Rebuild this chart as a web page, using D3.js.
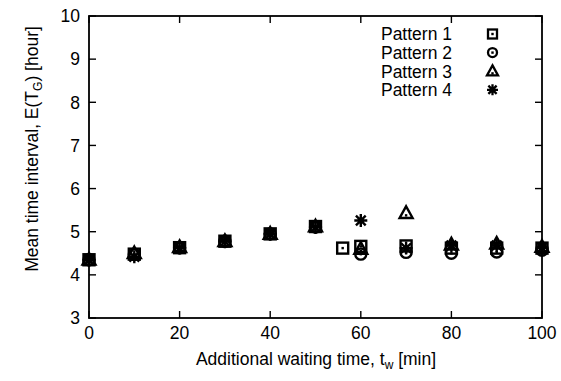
<!DOCTYPE html>
<html><head><meta charset="utf-8">
<script src="https://cdn.jsdelivr.net/npm/d3@7"></script>
<style>body{margin:0;background:#fff}svg{display:block}text{font-family:"Liberation Sans",Arial,sans-serif;fill:#000}</style>
</head><body>
<svg id="c" width="561" height="381"></svg>
<script>
const xTicks = [0, 20, 40, 60, 80, 100];
const yTicks = [3, 4, 5, 6, 7, 8, 9, 10];
const seriesNames = ["Pattern 1", "Pattern 2", "Pattern 3", "Pattern 4"];
const p1x = [0, 10, 20, 30, 40, 50, 56, 60, 70, 80, 90, 100];
const p1y = [4.35, 4.48, 4.63, 4.78, 4.95, 5.12, 4.62, 4.66, 4.67, 4.62, 4.62, 4.62];
const p2x = [0, 10, 20, 30, 40, 50, 60, 70, 80, 90, 100];
const p2y = [4.35, 4.47, 4.63, 4.78, 4.95, 5.11, 4.48, 4.52, 4.50, 4.53, 4.57];
const p3x = [0, 10, 20, 30, 40, 50, 60, 70, 80, 90, 100];
const p3y = [4.35, 4.50, 4.64, 4.78, 4.95, 5.12, 4.60, 5.43, 4.70, 4.72, 4.65];
const p4x = [0, 10, 20, 30, 40, 50, 60, 70, 80, 90, 100];
const p4y = [4.34, 4.42, 4.62, 4.77, 4.94, 5.10, 5.26, 4.62, 4.68, 4.68, 4.63];

const svg = d3.select("#c");
const L = 89, R = 542, T = 16, B = 318;
const x = d3.scaleLinear().domain([0, 100]).range([L, R]);
const y = d3.scaleLinear().domain([3, 10]).range([B, T]);
const FS = 17.5;

// ticks (inward, mirrored)
const tk = 7;
const g = svg.append("g").attr("stroke", "#000").attr("stroke-width", 1.4);
xTicks.forEach(v => {
  g.append("line").attr("x1", x(v)).attr("x2", x(v)).attr("y1", B).attr("y2", B - tk);
  g.append("line").attr("x1", x(v)).attr("x2", x(v)).attr("y1", T).attr("y2", T + tk);
});
yTicks.forEach(v => {
  g.append("line").attr("x1", L).attr("x2", L + tk).attr("y1", y(v)).attr("y2", y(v));
  g.append("line").attr("x1", R).attr("x2", R - tk).attr("y1", y(v)).attr("y2", y(v));
});
svg.append("rect").attr("x", L).attr("y", T).attr("width", R - L).attr("height", B - T)
  .attr("fill", "none").attr("stroke", "#000").attr("stroke-width", 1.8);

// tick labels
xTicks.forEach(v => svg.append("text").attr("x", x(v)).attr("y", 339).attr("text-anchor", "middle")
  .attr("font-size", FS).text(v));
yTicks.forEach(v => svg.append("text").attr("x", 80).attr("y", y(v) + 6.3).attr("text-anchor", "end")
  .attr("font-size", FS).text(v));

// axis titles
const xt = svg.append("text").attr("x", 316).attr("y", 365).attr("text-anchor", "middle").attr("font-size", FS);
xt.append("tspan").text("Additional waiting time, t");
xt.append("tspan").attr("font-size", 12).attr("dy", 4).text("w");
xt.append("tspan").attr("dy", -4).text(" [min]");

const yt = svg.append("text").attr("transform", "translate(38,149) rotate(-90)").attr("text-anchor", "middle").attr("font-size", FS);
yt.append("tspan").text("Mean time interval, E(T");
yt.append("tspan").attr("font-size", 12).attr("dy", 4).text("G");
yt.append("tspan").attr("dy", -4).text(") [hour]");

// markers
function marker(sel, type, cx, cy, s, sw) {
  const h = s / 2;
  const gg = sel.append("g").attr("transform", `translate(${cx},${cy})`)
    .attr("fill", "none").attr("stroke", "#000").attr("stroke-width", sw);
  if (type === 0) {
    gg.append("rect").attr("x", -h + 1).attr("y", -h + 1).attr("width", s - 2).attr("height", s - 2);
    gg.append("rect").attr("x", -1.2).attr("y", -1.2).attr("width", 2.4).attr("height", 2.4).attr("fill", "#000").attr("stroke", "none");
  } else if (type === 1) {
    gg.append("circle").attr("r", h - 1);
    gg.append("rect").attr("x", -1.2).attr("y", -1.2).attr("width", 2.4).attr("height", 2.4).attr("fill", "#000").attr("stroke", "none");
  } else if (type === 2) {
    gg.append("path").attr("d", `M0,${-h * 1.05}L${h},${h * 0.75}L${-h},${h * 0.75}Z`).attr("stroke-linejoin", "miter");
    gg.append("rect").attr("x", -1.2).attr("y", 1).attr("width", 2.4).attr("height", 2.4).attr("fill", "#000").attr("stroke", "none");
  } else {
    const d = h * 0.75;
    gg.append("path").attr("d", `M0,${-h}V${h}M${-h},0H${h}M${-d},${-d}L${d},${d}M${-d},${d}L${d},${-d}`);
  }
}
const series = [[p1x, p1y], [p2x, p2y], [p3x, p3y], [p4x, p4y]];
const mk = svg.append("g");
series.forEach((s, i) => {
  s[0].forEach((xv, j) => marker(mk, i, x(xv), y(s[1][j]), 13, 2.4));
});

// legend
seriesNames.forEach((n, i) => {
  const cy = 34 + i * 18.6;
  svg.append("text").attr("x", 452).attr("y", cy + 6.3).attr("text-anchor", "end").attr("font-size", FS).text(n);
  marker(svg, i, 492.5, cy, 11, 2.3);
});
</script>
</body></html>
